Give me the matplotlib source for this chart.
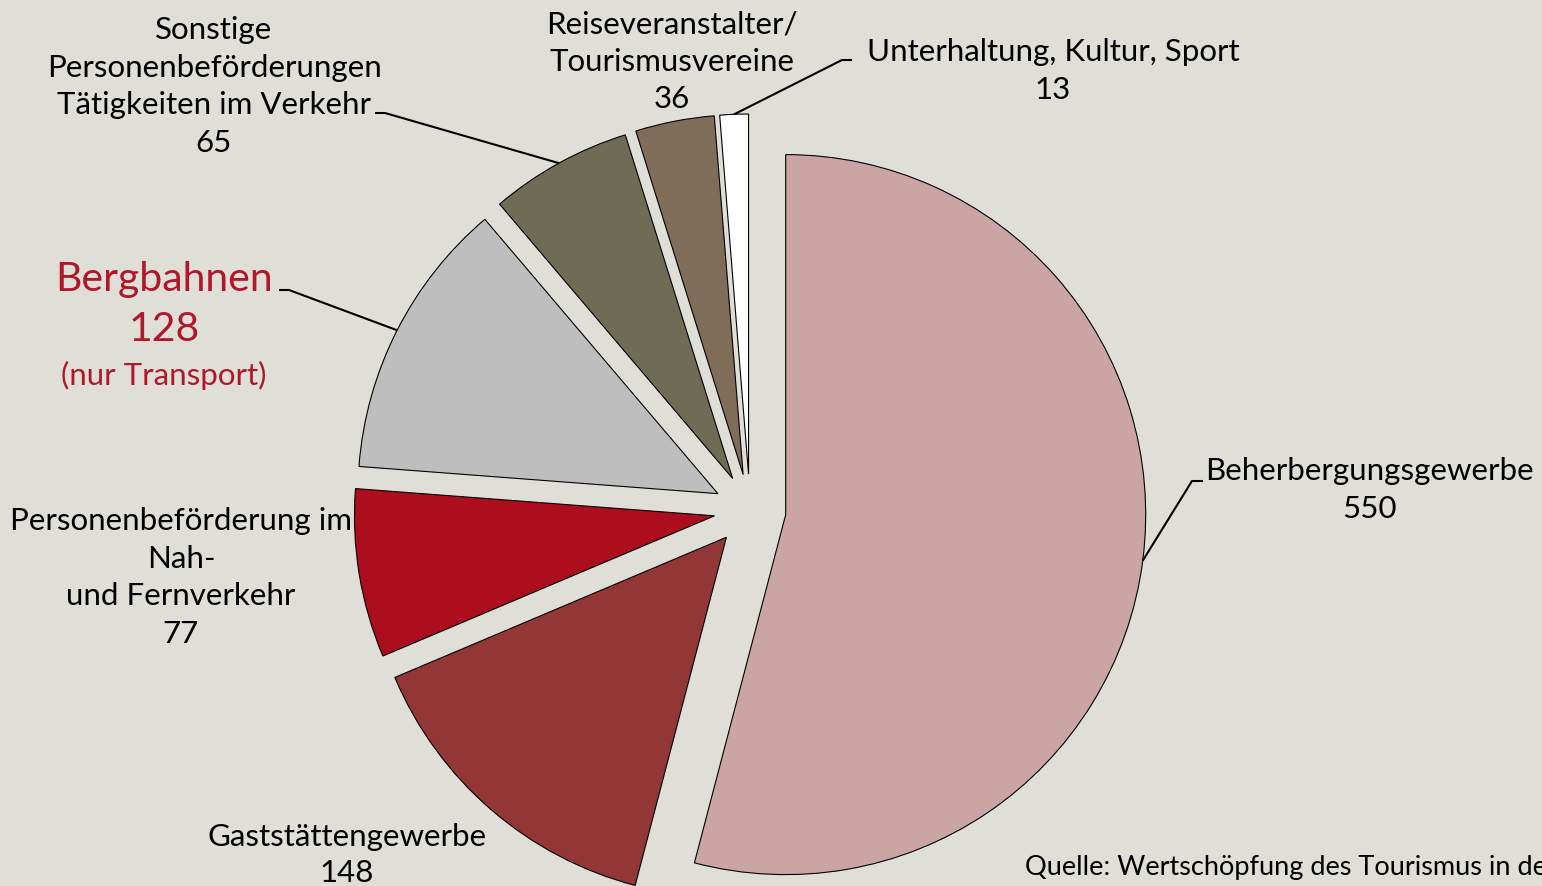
import numpy as np
import matplotlib
matplotlib.use('Agg')
import matplotlib.pyplot as plt

plt.rcParams['font.family'] = ['Lato', 'DejaVu Sans']

# data (clockwise from the top)
categories = ['Beherbergungsgewerbe', 'Gaststättengewerbe',
              'Personenbeförderung im Nah- und Fernverkehr', 'Bergbahnen',
              'Sonstige Personenbeförderungen Tätigkeiten im Verkehr',
              'Reiseveranstalter/Tourismusvereine', 'Unterhaltung, Kultur, Sport']
values = [550, 148, 77, 128, 65, 36, 13]
colors = ['#CBA4A4', '#933636', '#AD0E1D', '#BEBEBE', '#6E6C55', '#7F6D59', '#FFFFFF']

BG = '#DFDED7'
RED = '#B0182A'
W, H = 1542, 886
FS = 22.5

fig = plt.figure(figsize=(W / 100, H / 100), dpi=100, facecolor=BG)
ax = fig.add_axes([0, 0, 1, 1])
ax.set_facecolor(BG)

# explode is an absolute offset here (pixel units), 0.1 of the radius
wedges, _ = ax.pie(values, colors=colors, startangle=90, counterclock=False,
                   center=(750, H - 510), radius=360, explode=[36] * len(values),
                   wedgeprops=dict(edgecolor='black', linewidth=0.8), frame=True)
ax.set_xlim(0, W)
ax.set_ylim(0, H)
ax.axis('off')


def anchor(w):
    a = np.deg2rad((w.theta1 + w.theta2) / 2)
    cx, cy = w.center
    return cx + w.r * np.cos(a), cy + w.r * np.sin(a)


def leader(w, elbow, end):
    x0, y0 = anchor(w)
    ax.plot([x0, elbow[0], end[0]], [y0, H - elbow[1], H - end[1]],
            color='black', lw=1.5, solid_capstyle='butt')


def block(x, y, lines, size=FS, color='black', step=37.5):
    for i, ln in enumerate(lines):
        ax.text(x, H - (y + i * step), ln, ha='center', va='center',
                fontsize=size, color=color)


# leader lines
leader(wedges[6], (842, 60), (852, 60))
leader(wedges[4], (385, 113), (375, 113))
leader(wedges[3], (289, 290), (279, 290))
leader(wedges[0], (1192, 481), (1203, 481))

# labels
block(1053, 52, ['Unterhaltung, Kultur, Sport', str(values[6])])
block(672, 24, ['Reiseveranstalter/', 'Tourismusvereine', str(values[5])])
block(214, 30, ['Sonstige', 'Personenbeförderungen', 'Tätigkeiten im Verkehr',
                str(values[4])])
block(164, 279, ['Bergbahnen'], size=29.5, color=RED)
block(164, 329, [str(values[3])], size=29.5, color=RED)
block(164, 375, ['(nur Transport)'], size=FS, color=RED)
block(181, 521, ['Personenbeförderung im', 'Nah-', 'und Fernverkehr',
                 str(values[2])], step=37.7)
block(347, 837, ['Gaststättengewerbe', str(values[1])], step=36)
block(1369, 471, ['Beherbergungsgewerbe', str(values[0])])

ax.text(1025, H - 868, 'Quelle: Wertschöpfung des Tourismus in den Regionen Graubündens',
        ha='left', va='center', fontsize=19.5)

fig.savefig('out.png', dpi=100, facecolor=BG)
